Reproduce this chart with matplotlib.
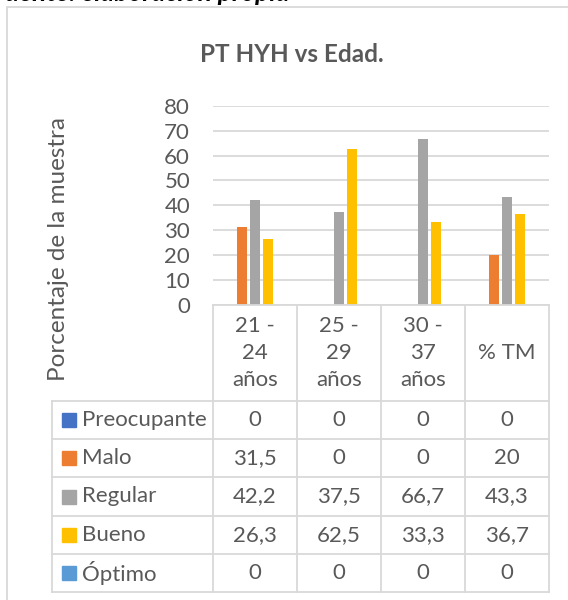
import numpy as np
import matplotlib.pyplot as plt
from matplotlib.patches import Rectangle

plt.rcParams['font.family'] = ['Lato', 'DejaVu Sans']

# data
categories = ['21 -\n24\naños', '25 -\n29\naños', '30 -\n37\naños', '% TM']
series_names = ['Preocupante', 'Malo', 'Regular', 'Bueno', 'Óptimo']
preocupante = [0, 0, 0, 0]
malo = [31.5, 0, 0, 20]
regular = [42.2, 37.5, 66.7, 43.3]
bueno = [26.3, 62.5, 33.3, 36.7]
optimo = [0, 0, 0, 0]
series_values = [preocupante, malo, regular, bueno, optimo]
colors = ['#4472C4', '#ED7D31', '#A5A5A5', '#FFC000', '#5B9BD5']

W, H = 568, 600
txt = '#595959'
line_c = '#D9D9D9'
fs = 16

fig = plt.figure(figsize=(W / 100, H / 100), dpi=100)

def fx(px):
    return px / W

def fy(py):
    return 1 - py / H

# outer chart border (cut by the picture edge on the right and bottom)
fig.patches.append(Rectangle((fx(7), fy(700)), fx(700), fy(7) - fy(700),
                             transform=fig.transFigure, fill=False,
                             edgecolor=line_c, lw=1.3))

# cropped caption from the document above the chart
fig.text(fx(290), fy(0.8), 'Fuente: elaboración propia', ha='right', va='baseline',
         fontsize=19, style='italic', weight='bold', color='black')

fig.text(fx(292), fy(55), 'PT HYH vs Edad.', ha='center', va='center',
         fontsize=17.5, weight='bold', color=txt)

# bar chart
ax = fig.add_axes([fx(213), fy(305), fx(336), fy(105.7) - fy(305)])
x = np.arange(len(categories))
step, bw = 0.155, 0.119
for i, vals in enumerate(series_values):
    ax.bar(x + (i - 2) * step, vals, bw, color=colors[i], zorder=3)
ax.set_xlim(-0.5, 3.5)
ax.set_ylim(0, 80)
ax.set_yticks(range(0, 81, 10))
ax.set_xticks([])
ax.grid(axis='y', color=line_c, lw=1.3, zorder=0)
for s in ax.spines.values():
    s.set_visible(False)
ax.tick_params(axis='y', length=0, labelsize=fs, labelcolor=txt, pad=16.5)

fig.text(fx(59), fy(249), 'Porcentaje de la muestra', rotation=90,
         ha='center', va='center', fontsize=17.5, color=txt)

# data table under the chart
lab_w = 161 / 84
head_h = 96 / 38.2
n_rows = len(series_names)
tax = fig.add_axes([fx(52), fy(592), fx(549 - 52), fy(305) - fy(592)])
tax.set_xlim(-0.5 - lab_w, 3.5)
tax.set_ylim(0, n_rows + head_h)
tax.axis('off')

for k in range(n_rows + 1):
    tax.plot([-0.5 - lab_w, 3.5], [k, k], color=line_c, lw=1.3, clip_on=False)
tax.plot([-0.5, 3.5], [n_rows + head_h] * 2, color=line_c, lw=1.3, clip_on=False)
tax.plot([-0.5 - lab_w] * 2, [0, n_rows], color=line_c, lw=1.3, clip_on=False)
for c in range(len(categories) + 1):
    tax.plot([c - 0.5] * 2, [0, n_rows + head_h], color=line_c, lw=1.3, clip_on=False)

for c, cat in enumerate(categories):
    tax.text(c, n_rows + head_h / 2, cat, ha='center', va='center',
             fontsize=fs, color=txt, linespacing=1.45)

for r, (name, vals) in enumerate(zip(series_names, series_values)):
    yc = n_rows - r - 0.5
    tax.plot(-0.5 - lab_w + 0.202, yc, marker='s', markersize=10,
             color=colors[r], clip_on=False)
    tax.text(-0.5 - lab_w + 0.357, yc, name, ha='left', va='center',
             fontsize=fs, color=txt)
    for c, v in enumerate(vals):
        s = ('%g' % v).replace('.', ',')
        tax.text(c, yc, s, ha='center', va='center', fontsize=fs, color=txt)

fig.savefig('out.png', dpi=100)
